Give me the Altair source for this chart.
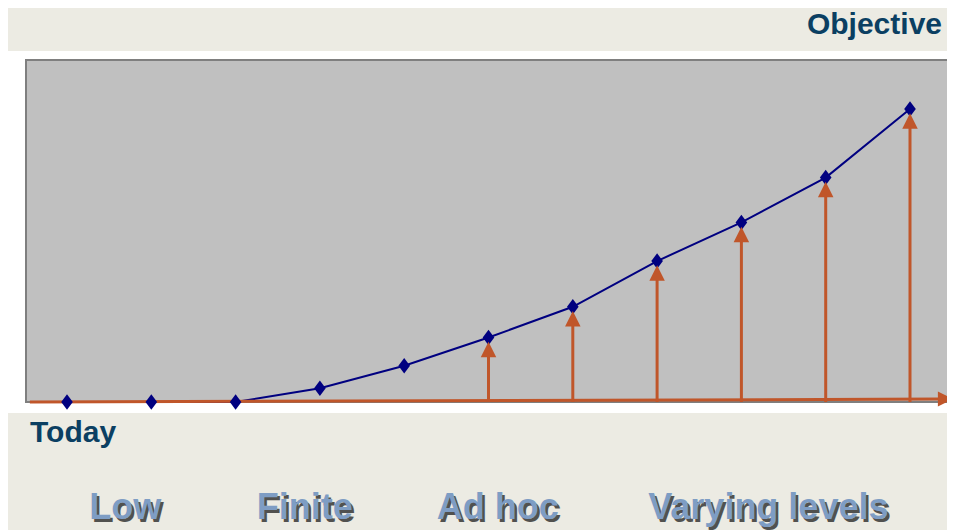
import altair as alt
import pandas as pd

# ---- data ----
steps = list(range(1, 12))
levels = [0, 0, 0, 4.7, 12.4, 22.0, 32.5, 48.1, 61.3, 76.6, 100]
arrow_steps = [6, 7, 8, 9, 10, 11]
arrow_levels = [22.0, 32.5, 48.1, 61.3, 76.6, 100]
arrow_base = [0, 0, 0, 0, 0, 0]
baseline_x = [0.56, 11.36]
baseline_y = [0.0, 1.0]
baseline_head_x = [11.42]
baseline_head_y = [1.0]
stage_labels = ["Low", "Finite", "Ad hoc", "Varying levels"]
stage_pos = [1.69, 3.82, 6.11, 9.32]

# ---- layout ----
W, H = 939, 522
PX_X, X0 = 84.3, 59
PX_Y, Y0 = 2.93, 394
xs = alt.Scale(domain=[1 - X0 / PX_X, 1 + (W - X0) / PX_X], nice=False, zero=False)
ys = alt.Scale(domain=[(Y0 - H) / PX_Y, Y0 / PX_Y], nice=False, zero=False)

NAVY = "#000080"
ORANGE = "#C0562A"
TXT = "#0B3F62"
FONT = "Liberation Sans"

pts = pd.DataFrame({"step": steps, "level": levels})
arr = pd.DataFrame({"step": arrow_steps, "level": arrow_levels, "base": arrow_base})
base = pd.DataFrame({"step": baseline_x, "level": baseline_y})
bhead = pd.DataFrame({"step": baseline_head_x, "level": baseline_head_y})
stages = pd.DataFrame({"label": stage_labels, "pos": stage_pos})
one = pd.DataFrame({"k": [0]})

X = lambda f: alt.X(f, type="quantitative", scale=xs, axis=None)
Y = lambda f: alt.Y(f, type="quantitative", scale=ys, axis=None)

frame = alt.Chart(one).mark_rect(color="white").encode(
    x=alt.value(0), x2=alt.value(947), y=alt.value(43), y2=alt.value(405))
panel = alt.Chart(one).mark_rect(fill="#C0C0C0", stroke="#7F7F7F", strokeWidth=2).encode(
    x=alt.value(18), x2=alt.value(942), y=alt.value(52), y2=alt.value(394))

line = alt.Chart(pts).mark_line(color=NAVY, strokeWidth=2).encode(x=X("step"), y=Y("level"))
bline = alt.Chart(base).mark_line(color=ORANGE, strokeWidth=3).encode(x=X("step"), y=Y("level"))
bhead_m = alt.Chart(bhead).mark_point(shape="M1,0L-1,-1L-1,1Z", filled=True, size=225,
                                      color=ORANGE, opacity=1).encode(x=X("step"), y=Y("level"))
diam = alt.Chart(pts).mark_point(shape="M0,-1L0.75,0L0,1L-0.75,0Z", filled=True, size=240,
                                 color=NAVY, opacity=1).encode(x=X("step"), y=Y("level"))
shaft = alt.Chart(arr).mark_rule(color=ORANGE, strokeWidth=3, yOffset=14).encode(
    x=X("step"), y=Y("level"), y2="base")
head = alt.Chart(arr).mark_point(shape="M0,-1L1,1L-1,1Z", filled=True, size=240,
                                 color=ORANGE, opacity=1, yOffset=12).encode(x=X("step"), y=Y("level"))

objective = alt.Chart(one).mark_text(text="Objective", font=FONT, fontSize=30, fontWeight="bold",
                                     color=TXT, align="right", baseline="alphabetic").encode(
    x=alt.value(934), y=alt.value(26))
today = alt.Chart(one).mark_text(text="Today", font=FONT, fontSize=30, fontWeight="bold",
                                 color=TXT, align="left", baseline="alphabetic").encode(
    x=alt.value(22), y=alt.value(434))
shadow = alt.Chart(stages).mark_text(font=FONT, fontSize=36, fontWeight="bold", color="#1e1e1e",
                                     opacity=0.75, align="center", baseline="alphabetic",
                                     dx=2.5, dy=2.5).encode(x=X("pos"), y=alt.value(511), text="label")
stage_txt = alt.Chart(stages).mark_text(font=FONT, fontSize=36, fontWeight="bold", color="#7E9DC4",
                                        align="center", baseline="alphabetic").encode(
    x=X("pos"), y=alt.value(511), text="label")

chart = alt.layer(frame, panel, line, bline, bhead_m, diam, shaft, head,
                  objective, today, shadow, stage_txt).properties(
    width=W, height=H, padding=0, autosize="none", background="#ECEBE3"
).configure_view(stroke=None)

chart.save("out.html", embed_options={"renderer": "svg", "actions": False})
